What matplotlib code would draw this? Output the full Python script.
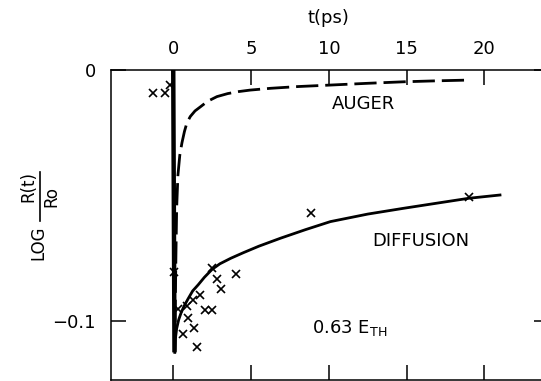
"""Reflectivity recovery after excitation at 0.63 E_TH: Auger vs diffusion model."""

import matplotlib

matplotlib.use("Agg")
import matplotlib.pyplot as plt
from matplotlib.lines import Line2D

plt.rcParams["font.family"] = ["DejaVu Sans"]
plt.rcParams["mathtext.fontset"] = "dejavusans"
plt.rcParams["lines.scale_dashes"] = False

# measured points (t in ps, log R/Ro)
meas_t = [-1.31, -0.56, -0.24, 0.06, 2.49, 2.81, 4.03, 3.09, 1.69, 1.24,
          0.88, 0.30, 2.01, 2.49, 0.98, 1.31, 0.60, 1.52, 8.86, 19.04]
meas_y = [-0.0093, -0.0093, -0.0060, -0.0804, -0.0787, -0.0831, -0.0813,
          -0.0873, -0.0896, -0.0917, -0.0942, -0.0952, -0.0955, -0.0955,
          -0.0989, -0.1028, -0.1050, -0.1104, -0.0571, -0.0505]

# excitation drop (solid vertical trace)
drop_t = [0.0, 0.08]
drop_y = [0.0, -0.1125]

# diffusion model
diff_t = [0.10, 0.14, 0.22, 0.35, 0.50, 0.70, 0.95, 1.25, 1.60, 2.00, 2.50,
          3.00, 3.70, 4.50, 5.50, 6.90, 8.50, 10.1, 12.5, 14.8, 17.0, 19.0, 21.0]
diff_y = [-0.1125, -0.1070, -0.1030, -0.0995, -0.0968, -0.0940, -0.0912,
          -0.0880, -0.0856, -0.0826, -0.0794, -0.0772, -0.0750, -0.0728,
          -0.0702, -0.0670, -0.0636, -0.0604, -0.0574, -0.0551, -0.0530,
          -0.0511, -0.0498]

# Auger model
auger_t = [0.10, 0.13, 0.17, 0.22, 0.30, 0.42, 0.56, 0.72, 0.88, 1.10, 1.40,
           1.74, 2.20, 2.81, 3.50, 4.20, 4.95, 6.24, 8.00, 10.1, 12.5, 14.8,
           17.0, 19.1]
auger_y = [-0.1120, -0.0950, -0.0750, -0.0550, -0.0420, -0.0340, -0.0290,
           -0.0245, -0.0210, -0.0185, -0.0163, -0.0147, -0.0125, -0.0106,
           -0.0094, -0.0086, -0.0080, -0.0073, -0.0066, -0.0060, -0.0053,
           -0.0047, -0.0043, -0.0040]

W, H = 541, 381
fig = plt.figure(figsize=(W / 100, H / 100), dpi=100)
left, right, top, bottom = 111, 549, 70, 380
ax = fig.add_axes([left / W, (H - bottom) / H, (right - left) / W, (bottom - top) / H])

ax.plot(drop_t, drop_y, color="black", lw=3.2, solid_capstyle="butt")
ax.plot(diff_t, diff_y, color="black", lw=2.0)
ax.plot(auger_t, auger_y, color="black", lw=2.0, dashes=(16, 5))
ax.plot(meas_t, meas_y, ls="none", marker="x", ms=6, mew=1.2, color="black")

ax.set_xlim(-4.0, 24.15)
ax.set_ylim(-0.1235, 0.0)
for s in ax.spines.values():
    s.set_linewidth(1.1)

ax.set_xticks([0, 5, 10, 15, 20])
ax.tick_params(axis="x", which="both", top=True, bottom=True, labeltop=True,
               labelbottom=False, direction="in", length=11, width=1.1,
               labelsize=13, pad=9)
ax.set_yticks([0, -0.1])
ax.set_yticklabels(["0", "\u22120.1"])
ax.tick_params(axis="y", which="both", left=True, right=True, direction="in",
               length=11, width=1.1, labelsize=13, pad=11)

fig.text(328 / W, 1 - 18 / H, "t(ps)", ha="center", va="center", fontsize=13)
fig.text(363 / W, 1 - 104 / H, "AUGER", ha="center", va="center", fontsize=13)
fig.text(421 / W, 1 - 241 / H, "DIFFUSION", ha="center", va="center", fontsize=13)
fig.text(312 / W, 1 - 333 / H, r"0.63 E$_{\mathrm{TH}}$", ha="left",
         va="baseline", fontsize=13)

# y-axis label: LOG R(t)/Ro, rotated
fig.text(38 / W, 1 - 243 / H, "LOG", rotation=90, ha="center", va="center", fontsize=12)
fig.text(28 / W, 1 - 186 / H, "R(t)", rotation=90, ha="center", va="center", fontsize=12)
fig.text(51 / W, 1 - 196 / H, "Ro", rotation=90, ha="center", va="center", fontsize=12)
fig.add_artist(Line2D([39.5 / W, 39.5 / W], [1 - 172 / H, 1 - 221 / H],
                      color="black", lw=1.2, transform=fig.transFigure))

fig.savefig("out.png", dpi=100)
